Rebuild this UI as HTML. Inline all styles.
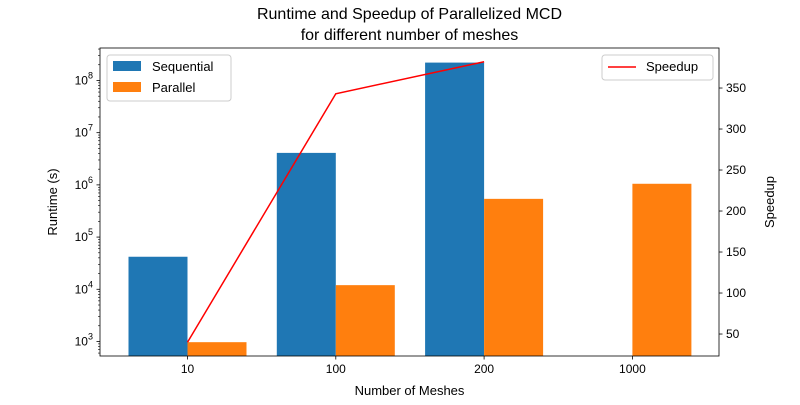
<!DOCTYPE html>
<html><head><meta charset="utf-8"><style>
body{margin:0;background:#fff;}
svg text{font-family:"Liberation Sans","DejaVu Sans",sans-serif;fill:#000;}
</style></head><body>
<svg id="c" width="800" height="400" xmlns="http://www.w3.org/2000/svg"></svg>
<script>
const categories=["10","100","200","1000"];
const sequential=[4.2e4,4.1e6,2.2e8,null];
const parallel=[9.7e2,1.2e4,5.4e5,1.05e6];
const speedup=[40,343,382];
const leftTicks=[3,4,5,6,7,8];
const rightTicks=[50,100,150,200,250,300,350];

const NS="http://www.w3.org/2000/svg";
const svg=document.getElementById('c');
const L=100,R=719,T=48,B=356;
const logMin=2.722,logMax=8.622;
const rMin=23.2,rMax=398.8;
function yL(v){return B-(Math.log10(v)-logMin)/(logMax-logMin)*(B-T);}
function yR(v){return B-(v-rMin)/(rMax-rMin)*(B-T);}
const step=148.3, x0=187.5;
function xC(i){return x0+i*step;}
const bw=59;
function el(tag,attrs,parent){const e=document.createElementNS(NS,tag);for(const k in attrs)e.setAttribute(k,attrs[k]);(parent||svg).appendChild(e);return e;}
function txt(s,attrs){const t=el('text',attrs);t.textContent=s;return t;}

sequential.forEach((v,i)=>{if(v==null)return;const y=yL(v);
const r=el('rect',{x:xC(i)-bw,y:y,width:bw,height:B-y,fill:'#1f77b4'});

});
parallel.forEach((v,i)=>{const y=yL(v);
const r=el('rect',{x:xC(i),y:y,width:bw,height:B-y,fill:'#ff7f0e'});

});

const pts=speedup.map((v,i)=>xC(i)+','+yR(v)).join(' ');
const pl=el('polyline',{points:pts,fill:'none',stroke:'#ff0000','stroke-width':1.5});



el('rect',{x:L,y:T,width:R-L,height:B-T,fill:'none',stroke:'#000','stroke-width':0.8});

leftTicks.forEach(p=>{const y=yL(Math.pow(10,p));
el('line',{x1:L-3.5,x2:L,y1:y,y2:y,stroke:'#000','stroke-width':0.8});
const t=el('text',{x:L-7,y:y+4,'text-anchor':'end','font-size':12});


t.innerHTML='10<tspan dy="-6" font-size="9">'+p+'</tspan>';
for(let k=2;k<10;k++){const yy=yL(k*Math.pow(10,p));if(yy>T&&yy<B)el('line',{x1:L-2,x2:L,y1:yy,y2:yy,stroke:'#000','stroke-width':0.6});}
});
for(let k=6;k<10;k++){const yy=yL(k*100);if(yy<B)el('line',{x1:L-2,x2:L,y1:yy,y2:yy,stroke:'#000','stroke-width':0.6});}
rightTicks.forEach(v=>{const y=yR(v);
el('line',{x1:R,x2:R+3.5,y1:y,y2:y,stroke:'#000','stroke-width':0.8});
const t=txt(String(v),{x:R+7,y:y+4,'font-size':12});

});
categories.forEach((c,i)=>{const x=xC(i);
el('line',{x1:x,x2:x,y1:B,y2:B+3.5,stroke:'#000','stroke-width':0.8});
const t=txt(c,{x:x,y:B+17,'text-anchor':'middle','font-size':12});

});

let t;
t=txt('Number of Meshes',{x:409.5,y:395,'text-anchor':'middle','font-size':13});

t=txt('Runtime (s)',{x:0,y:0,'text-anchor':'middle','font-size':13,transform:'translate(57,202) rotate(-90)'});

t=txt('Speedup',{x:0,y:0,'text-anchor':'middle','font-size':13,transform:'translate(774,202) rotate(-90)'});

t=txt('Runtime and Speedup of Parallelized MCD',{x:409.5,y:19,'text-anchor':'middle','font-size':16});

t=txt('for different number of meshes',{x:409.5,y:40,'text-anchor':'middle','font-size':16});


const lg=el('g',{});

el('rect',{x:107,y:55,width:124,height:46,rx:3,fill:'#fff',stroke:'#ccc'},lg);
el('rect',{x:113,y:61,width:28,height:10,fill:'#1f77b4'},lg);
txt('Sequential',{x:152,y:71,'font-size':13});
el('rect',{x:113,y:82,width:28,height:10,fill:'#ff7f0e'},lg);
txt('Parallel',{x:152,y:92,'font-size':13});
const lg2=el('g',{});

el('rect',{x:602,y:55,width:111,height:25,rx:3,fill:'#fff',stroke:'#ccc'},lg2);
el('line',{x1:608,x2:636,y1:67,y2:67,stroke:'#ff0000','stroke-width':1.5},lg2);
txt('Speedup',{x:646,y:71,'font-size':13});
</script>
</body></html>
